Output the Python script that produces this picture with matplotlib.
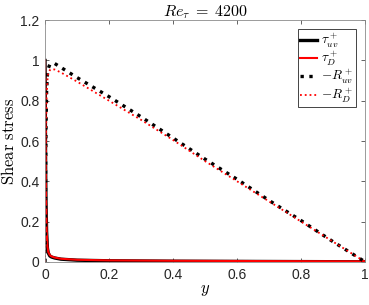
import numpy as np
import matplotlib
matplotlib.use('Agg')
import matplotlib.pyplot as plt

plt.rcParams['mathtext.fontset'] = 'cm'
plt.rcParams['font.family'] = 'Liberation Sans'

# wall-normal coordinate (outer units)
y = [0, 0.0005, 0.001, 0.002, 0.003, 0.005, 0.0075, 0.01, 0.015, 0.02, 0.03,
     0.05, 0.1, 0.2, 0.3, 0.4, 0.5, 0.6, 0.7, 0.8, 0.9, 1.0]

# viscous stresses
tau_uv = [1.0, 0.9, 0.75, 0.45, 0.3, 0.15, 0.07, 0.045, 0.03, 0.025, 0.02,
          0.014, 0.009, 0.006, 0.005, 0.004, 0.0035, 0.003, 0.0025, 0.002, 0.0015, 0.001]
tau_D = [1.0, 0.91, 0.77, 0.47, 0.32, 0.16, 0.08, 0.05, 0.034, 0.028, 0.022,
         0.016, 0.011, 0.008, 0.007, 0.006, 0.0055, 0.005, 0.0045, 0.004, 0.0035, 0.003]

# Reynolds stresses
R_uv = [0, 0.08, 0.15, 0.45, 0.65, 0.85, 0.93, 0.96, 0.98, 0.985, 0.985,
        0.965, 0.915, 0.82, 0.72, 0.615, 0.51, 0.41, 0.305, 0.205, 0.1, 0.0]
R_D = [0, 0.07, 0.14, 0.43, 0.62, 0.82, 0.9, 0.935, 0.952, 0.957, 0.955,
       0.94, 0.895, 0.8, 0.705, 0.605, 0.5, 0.4, 0.3, 0.2, 0.1, 0.0]

fig = plt.figure(figsize=(3.69, 3.05), dpi=100)
ax = fig.add_axes([0.122, 0.141, 0.868, 0.793])

ax.plot(y, tau_uv, 'k-', lw=2.4, label=r'$\tau^+_{uv}$')
ax.plot(y, tau_D, 'r-', lw=1.5, label=r'$\tau^+_{D}$')
ax.plot(y, R_uv, 'k:', lw=2.4, label=r'$-R^+_{uv}$')
ax.plot(y, R_D, 'r:', lw=1.3, label=r'$-R^+_{D}$')

ax.set_xlim([0, 1])
ax.set_ylim([0, 1.2])
ax.set_xticks(np.arange(0, 1.01, 0.2))
ax.set_yticks(np.arange(0, 1.21, 0.2))
ax.set_xticklabels(['0', '0.2', '0.4', '0.6', '0.8', '1'])
ax.set_yticklabels(['0', '0.2', '0.4', '0.6', '0.8', '1', '1.2'])
ax.tick_params(direction='in', top=True, right=True, length=3, width=0.5,
               colors='#262626', labelsize=10, pad=4)
for s in ax.spines.values():
    s.set_color('#8a8a8a')
    s.set_linewidth(0.6)

ax.set_title(r'$Re_\tau\;=\;4200$', fontsize=11.5, pad=3)
ax.set_xlabel(r'$y$', fontsize=12, labelpad=1)
ax.set_ylabel(r'$\mathrm{Shear\ stress}$', fontsize=12, labelpad=2)

leg = ax.legend(loc='upper right', fontsize=9.5, handlelength=1.3, handletextpad=0.3,
                labelspacing=0.0, borderpad=0.2, borderaxespad=0.7,
                fancybox=False, framealpha=1)
leg.get_frame().set_edgecolor('#262626')
leg.get_frame().set_linewidth(0.6)

fig.savefig('out.png', dpi=100)
